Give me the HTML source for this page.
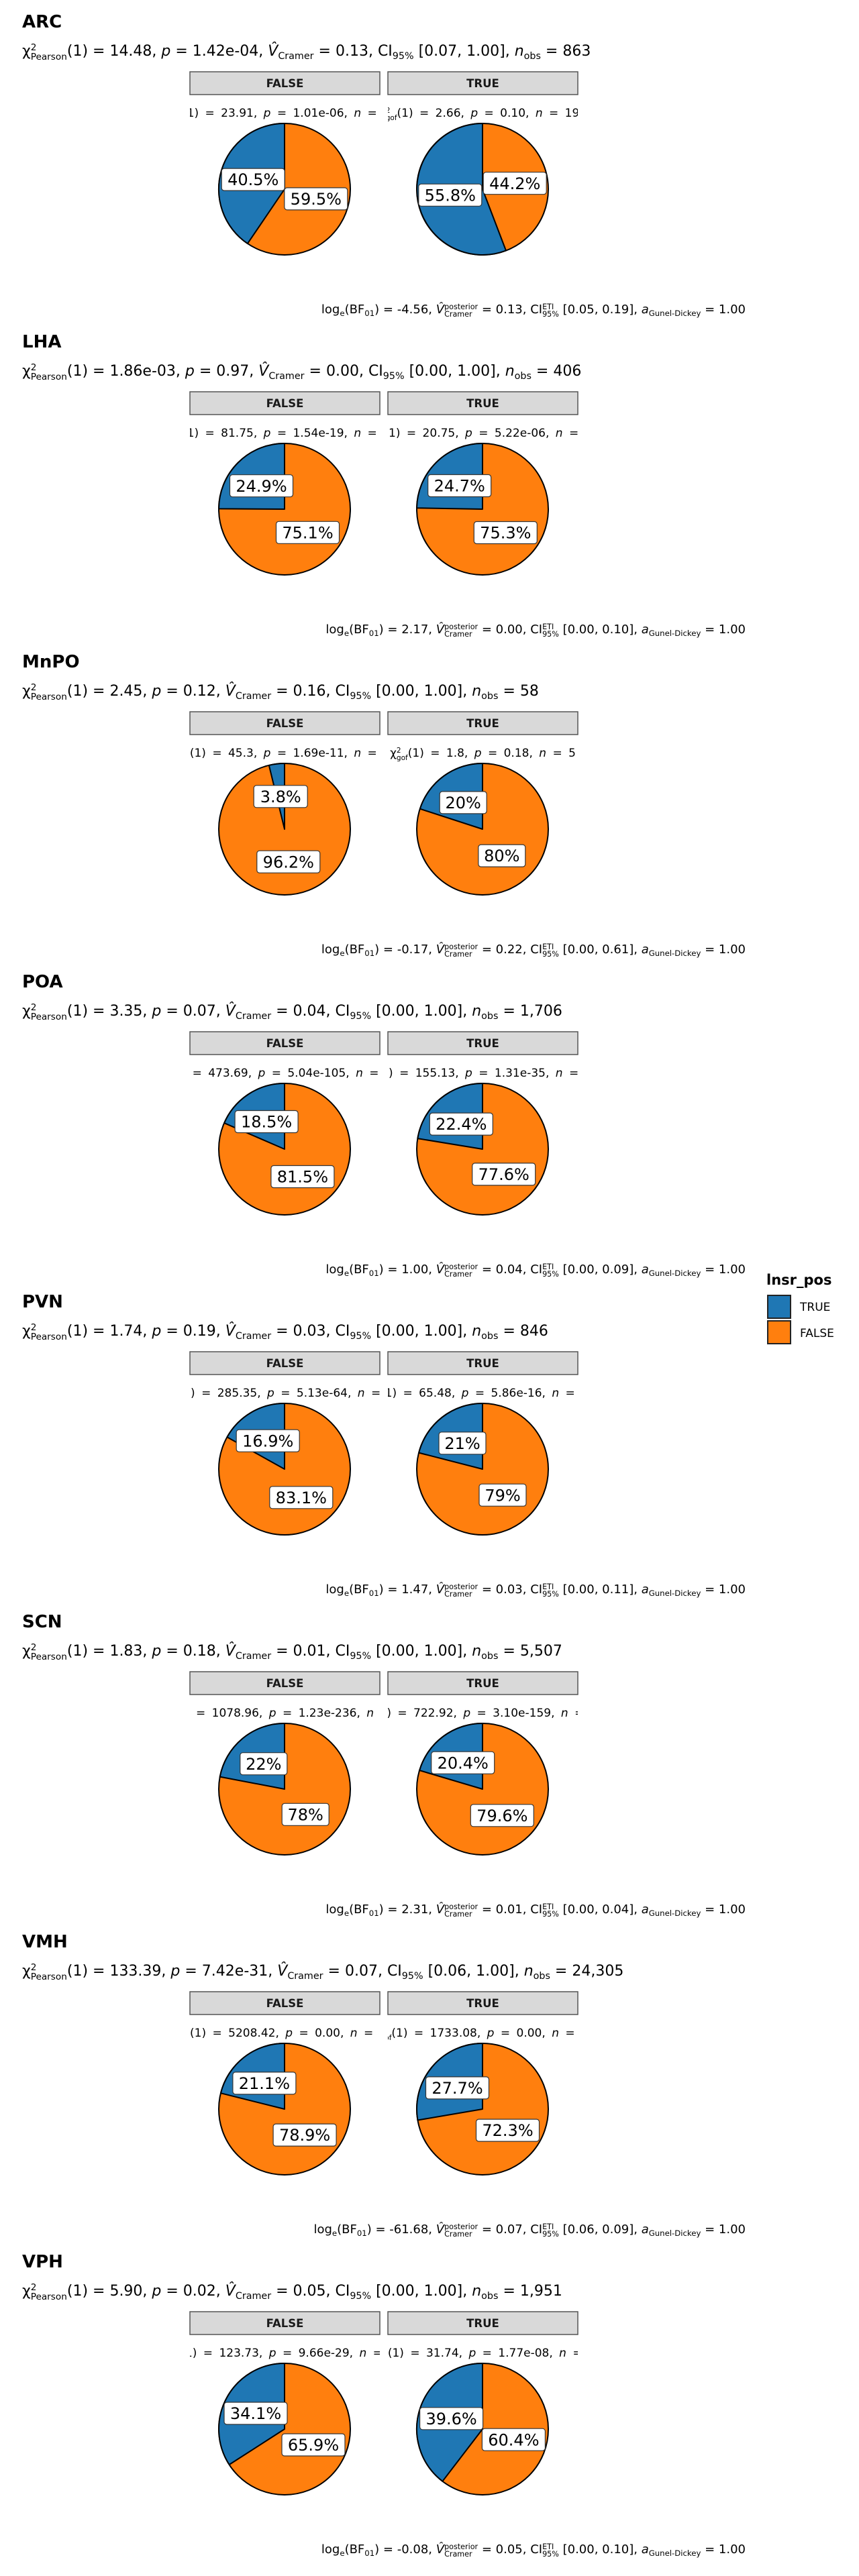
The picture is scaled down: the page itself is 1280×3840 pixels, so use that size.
<!DOCTYPE html>
<html><head><meta charset="utf-8"><style>
body{margin:0;background:#fff;}
#c{position:relative;width:1280px;height:3840px;overflow:hidden;font-family:"DejaVu Sans","Liberation Sans",sans-serif;color:#000;}
svg{position:absolute;left:0;top:0;}
.p{position:absolute;left:0;width:1280px;height:477px;}
.t{position:absolute;left:33px;top:15px;font-size:26px;font-weight:bold;line-height:36px;}
.s{position:absolute;left:33px;top:62px;font-size:22px;line-height:30px;white-space:nowrap;}
.sub{position:absolute;top:155px;height:28px;overflow:hidden;font-size:17px;line-height:28px;white-space:nowrap;}
.sub div{position:absolute;left:50%;transform:translateX(-50%);word-spacing:4px;}
.cap{position:absolute;right:169px;top:447px;font-size:18px;line-height:30px;white-space:nowrap;}
.ss{display:inline-block;vertical-align:-0.45em;font-size:.62em;line-height:1;text-align:left;}
.ss span{display:block;}
sub{font-size:.65em;vertical-align:-0.35em;line-height:0;}
sup{font-size:.65em;line-height:0;}
i{font-style:italic;}
</style></head><body><div id="c">
<svg width="1280" height="3840" viewBox="0 0 1280 3840" font-family="DejaVu Sans, Liberation Sans, sans-serif">
<defs>
<g id="strips">
<rect x="283" y="107" width="283" height="34" fill="#d9d9d9" stroke="#555" stroke-width="1.5"/>
<rect x="578" y="107" width="283" height="34" fill="#d9d9d9" stroke="#555" stroke-width="1.5"/>
<text x="424.5" y="130" font-size="16.5" font-weight="bold" text-anchor="middle" fill="#1a1a1a">FALSE</text>
<text x="719.5" y="130" font-size="16.5" font-weight="bold" text-anchor="middle" fill="#1a1a1a">TRUE</text>
</g>
</defs>
<g stroke="#000" stroke-width="2" stroke-linejoin="round">
<circle cx="424" cy="282" r="98" fill="#ff7f0e"/><path d="M424 282 L424 184 A98 98 0 0 0 368.9 363.1 Z" fill="#1f77b4"/>
<circle cx="719" cy="282" r="98" fill="#ff7f0e"/><path d="M719 282 L719 184 A98 98 0 1 0 754.0 373.6 Z" fill="#1f77b4"/>
<circle cx="424" cy="759" r="98" fill="#ff7f0e"/><path d="M424 759 L424 661 A98 98 0 0 0 326 758.4 Z" fill="#1f77b4"/>
<circle cx="719" cy="759" r="98" fill="#ff7f0e"/><path d="M719 759 L719 661 A98 98 0 0 0 621.0 757.2 Z" fill="#1f77b4"/>
<circle cx="424" cy="1236" r="98" fill="#ff7f0e"/><path d="M424 1236 L424 1138 A98 98 0 0 0 400.8 1140.8 Z" fill="#1f77b4"/>
<circle cx="719" cy="1236" r="98" fill="#ff7f0e"/><path d="M719 1236 L719 1138 A98 98 0 0 0 625.8 1205.7 Z" fill="#1f77b4"/>
<circle cx="424" cy="1713" r="98" fill="#ff7f0e"/><path d="M424 1713 L424 1615 A98 98 0 0 0 334.1 1674.1 Z" fill="#1f77b4"/>
<circle cx="719" cy="1713" r="98" fill="#ff7f0e"/><path d="M719 1713 L719 1615 A98 98 0 0 0 622.3 1697.1 Z" fill="#1f77b4"/>
<circle cx="424" cy="2190" r="98" fill="#ff7f0e"/><path d="M424 2190 L424 2092 A98 98 0 0 0 338.4 2142.2 Z" fill="#1f77b4"/>
<circle cx="719" cy="2190" r="98" fill="#ff7f0e"/><path d="M719 2190 L719 2092 A98 98 0 0 0 624.1 2165.6 Z" fill="#1f77b4"/>
<circle cx="424" cy="2667" r="98" fill="#ff7f0e"/><path d="M424 2667 L424 2569 A98 98 0 0 0 327.7 2648.6 Z" fill="#1f77b4"/>
<circle cx="719" cy="2667" r="98" fill="#ff7f0e"/><path d="M719 2667 L719 2569 A98 98 0 0 0 625.1 2639.1 Z" fill="#1f77b4"/>
<circle cx="424" cy="3144" r="98" fill="#ff7f0e"/><path d="M424 3144 L424 3046 A98 98 0 0 0 328.9 3120.2 Z" fill="#1f77b4"/>
<circle cx="719" cy="3144" r="98" fill="#ff7f0e"/><path d="M719 3144 L719 3046 A98 98 0 0 0 622.4 3160.5 Z" fill="#1f77b4"/>
<circle cx="424" cy="3621" r="98" fill="#ff7f0e"/><path d="M424 3621 L424 3523 A98 98 0 0 0 341.6 3674.0 Z" fill="#1f77b4"/>
<circle cx="719" cy="3621" r="98" fill="#ff7f0e"/><path d="M719 3621 L719 3523 A98 98 0 0 0 659.4 3698.8 Z" fill="#1f77b4"/>
</g>
<use href="#strips" y="0"/><use href="#strips" y="477"/><use href="#strips" y="954"/><use href="#strips" y="1431"/>
<use href="#strips" y="1908"/><use href="#strips" y="2385"/><use href="#strips" y="2862"/><use href="#strips" y="3339"/>
<g font-size="24" text-anchor="middle" fill="#000">
<g fill="#fff" stroke="#333" stroke-width="1.2">
<rect x="330.2" y="251.1" width="94" height="33" rx="4"/><rect x="423.8" y="279.9" width="94" height="33" rx="4"/>
<rect x="623.8" y="274.3" width="94" height="33" rx="4"/><rect x="720.2" y="256.7" width="94" height="33" rx="4"/>
<rect x="342.5" y="707.7" width="94" height="33" rx="4"/><rect x="411.5" y="777.3" width="94" height="33" rx="4"/>
<rect x="637.7" y="707.5" width="94" height="33" rx="4"/><rect x="706.3" y="777.5" width="94" height="33" rx="4"/>
<rect x="378.2" y="1170.8" width="80" height="33" rx="4"/><rect x="382.8" y="1268.2" width="94" height="33" rx="4"/>
<rect x="655.2" y="1179.9" width="70" height="33" rx="4"/><rect x="712.8" y="1259.1" width="70" height="33" rx="4"/>
<rect x="350.1" y="1655.5" width="94" height="33" rx="4"/><rect x="403.9" y="1737.5" width="94" height="33" rx="4"/>
<rect x="640.3" y="1659.1" width="94" height="33" rx="4"/><rect x="703.7" y="1733.9" width="94" height="33" rx="4"/>
<rect x="352.2" y="2131.2" width="94" height="33" rx="4"/><rect x="401.8" y="2215.8" width="94" height="33" rx="4"/>
<rect x="654.0" y="2134.8" width="70" height="33" rx="4"/><rect x="714.0" y="2212.2" width="70" height="33" rx="4"/>
<rect x="357.8" y="2612.7" width="70" height="33" rx="4"/><rect x="420.2" y="2688.3" width="70" height="33" rx="4"/>
<rect x="642.7" y="2611.2" width="94" height="33" rx="4"/><rect x="701.3" y="2689.8" width="94" height="33" rx="4"/>
<rect x="346.9" y="3088.9" width="94" height="33" rx="4"/><rect x="407.1" y="3166.1" width="94" height="33" rx="4"/>
<rect x="634.5" y="3095.9" width="94" height="33" rx="4"/><rect x="709.5" y="3159.1" width="94" height="33" rx="4"/>
<rect x="334.0" y="3581.0" width="94" height="33" rx="4"/><rect x="420.0" y="3628.0" width="94" height="33" rx="4"/>
<rect x="625.6" y="3588.8" width="94" height="33" rx="4"/><rect x="718.4" y="3620.2" width="94" height="33" rx="4"/>
</g>
<text x="377.2" y="276.2">40.5%</text><text x="470.8" y="305.0">59.5%</text>
<text x="670.8" y="299.4">55.8%</text><text x="767.2" y="281.8">44.2%</text>
<text x="389.5" y="732.8">24.9%</text><text x="458.5" y="802.4">75.1%</text>
<text x="684.7" y="732.6">24.7%</text><text x="753.3" y="802.6">75.3%</text>
<text x="418.2" y="1195.9">3.8%</text><text x="429.8" y="1293.3">96.2%</text>
<text x="690.2" y="1205.0">20%</text><text x="747.8" y="1284.2">80%</text>
<text x="397.1" y="1680.6">18.5%</text><text x="450.9" y="1762.6">81.5%</text>
<text x="687.3" y="1684.2">22.4%</text><text x="750.7" y="1759.0">77.6%</text>
<text x="399.2" y="2156.3">16.9%</text><text x="448.8" y="2240.9">83.1%</text>
<text x="689.0" y="2159.9">21%</text><text x="749.0" y="2237.3">79%</text>
<text x="392.8" y="2637.8">22%</text><text x="455.2" y="2713.4">78%</text>
<text x="689.7" y="2636.3">20.4%</text><text x="748.3" y="2714.9">79.6%</text>
<text x="393.9" y="3114.0">21.1%</text><text x="454.1" y="3191.2">78.9%</text>
<text x="681.5" y="3121.0">27.7%</text><text x="756.5" y="3184.2">72.3%</text>
<text x="381.0" y="3606.1">34.1%</text><text x="467.0" y="3653.1">65.9%</text>
<text x="672.6" y="3613.9">39.6%</text><text x="765.4" y="3645.3">60.4%</text>
</g>
<text x="1142" y="1915" font-size="21" font-weight="bold">lnsr_pos</text>
<rect x="1144" y="1931" width="34" height="34" fill="#1f77b4" stroke="#222" stroke-width="2"/>
<rect x="1144" y="1969" width="34" height="34" fill="#ff7f0e" stroke="#222" stroke-width="2"/>
<text x="1192" y="1954" font-size="17">TRUE</text>
<text x="1192" y="1993" font-size="17">FALSE</text>
</svg>

<div class="p" style="top:0">
<div class="t">ARC</div>
<div class="s">χ<span class="ss"><span>2</span><span>Pearson</span></span>(1) = 14.48, <i>p</i> = 1.42e-04, <i>V̂</i><sub>Cramer</sub> = 0.13, CI<sub>95%</sub> [0.07, 1.00], <i>n</i><sub>obs</sub> = 863</div>
<div class="sub" style="left:283px;width:283px"><div>χ<span class="ss"><span>2</span><span>gof</span></span>(1) = 23.91,  <i>p</i> = 1.01e-06,  <i>n</i> = 500</div></div>
<div class="sub" style="left:578px;width:283px"><div>χ<span class="ss"><span>2</span><span>gof</span></span>(1) = 2.66,  <i>p</i> = 0.10,  <i>n</i> = 199</div></div>
<div class="cap">log<sub>e</sub>(BF<sub>01</sub>) = -4.56, <i>V̂</i><span class="ss"><span>posterior</span><span>Cramer</span></span> = 0.13, CI<span class="ss"><span>ETI</span><span>95%</span></span> [0.05, 0.19], <i>a</i><sub>Gunel-Dickey</sub> = 1.00</div>
</div>

<div class="p" style="top:477px">
<div class="t">LHA</div>
<div class="s">χ<span class="ss"><span>2</span><span>Pearson</span></span>(1) = 1.86e-03, <i>p</i> = 0.97, <i>V̂</i><sub>Cramer</sub> = 0.00, CI<sub>95%</sub> [0.00, 1.00], <i>n</i><sub>obs</sub> = 406</div>
<div class="sub" style="left:283px;width:283px"><div>χ<span class="ss"><span>2</span><span>gof</span></span>(1) = 81.75,  <i>p</i> = 1.54e-19,  <i>n</i> = 325</div></div>
<div class="sub" style="left:578px;width:283px"><div>χ<span class="ss"><span>2</span><span>gof</span></span>(1) = 20.75,  <i>p</i> = 5.22e-06,  <i>n</i> = 81</div></div>
<div class="cap">log<sub>e</sub>(BF<sub>01</sub>) = 2.17, <i>V̂</i><span class="ss"><span>posterior</span><span>Cramer</span></span> = 0.00, CI<span class="ss"><span>ETI</span><span>95%</span></span> [0.00, 0.10], <i>a</i><sub>Gunel-Dickey</sub> = 1.00</div>
</div>

<div class="p" style="top:954px">
<div class="t">MnPO</div>
<div class="s">χ<span class="ss"><span>2</span><span>Pearson</span></span>(1) = 2.45, <i>p</i> = 0.12, <i>V̂</i><sub>Cramer</sub> = 0.16, CI<sub>95%</sub> [0.00, 1.00], <i>n</i><sub>obs</sub> = 58</div>
<div class="sub" style="left:283px;width:283px"><div>χ<span class="ss"><span>2</span><span>gof</span></span>(1) = 45.3,  <i>p</i> = 1.69e-11,  <i>n</i> = 53</div></div>
<div class="sub" style="left:578px;width:283px"><div>χ<span class="ss"><span>2</span><span>gof</span></span>(1) = 1.8,  <i>p</i> = 0.18,  <i>n</i> = 5</div></div>
<div class="cap">log<sub>e</sub>(BF<sub>01</sub>) = -0.17, <i>V̂</i><span class="ss"><span>posterior</span><span>Cramer</span></span> = 0.22, CI<span class="ss"><span>ETI</span><span>95%</span></span> [0.00, 0.61], <i>a</i><sub>Gunel-Dickey</sub> = 1.00</div>
</div>

<div class="p" style="top:1431px">
<div class="t">POA</div>
<div class="s">χ<span class="ss"><span>2</span><span>Pearson</span></span>(1) = 3.35, <i>p</i> = 0.07, <i>V̂</i><sub>Cramer</sub> = 0.04, CI<sub>95%</sub> [0.00, 1.00], <i>n</i><sub>obs</sub> = 1,706</div>
<div class="sub" style="left:283px;width:283px"><div>χ<span class="ss"><span>2</span><span>gof</span></span>(1) = 473.69,  <i>p</i> = 5.04e-105,  <i>n</i> = 1,091</div></div>
<div class="sub" style="left:578px;width:283px"><div>χ<span class="ss"><span>2</span><span>gof</span></span>(1) = 155.13,  <i>p</i> = 1.31e-35,  <i>n</i> = 615</div></div>
<div class="cap">log<sub>e</sub>(BF<sub>01</sub>) = 1.00, <i>V̂</i><span class="ss"><span>posterior</span><span>Cramer</span></span> = 0.04, CI<span class="ss"><span>ETI</span><span>95%</span></span> [0.00, 0.09], <i>a</i><sub>Gunel-Dickey</sub> = 1.00</div>
</div>

<div class="p" style="top:1908px">
<div class="t">PVN</div>
<div class="s">χ<span class="ss"><span>2</span><span>Pearson</span></span>(1) = 1.74, <i>p</i> = 0.19, <i>V̂</i><sub>Cramer</sub> = 0.03, CI<sub>95%</sub> [0.00, 1.00], <i>n</i><sub>obs</sub> = 846</div>
<div class="sub" style="left:283px;width:283px"><div>χ<span class="ss"><span>2</span><span>gof</span></span>(1) = 285.35,  <i>p</i> = 5.13e-64,  <i>n</i> = 621</div></div>
<div class="sub" style="left:578px;width:283px"><div>χ<span class="ss"><span>2</span><span>gof</span></span>(1) = 65.48,  <i>p</i> = 5.86e-16,  <i>n</i> = 225</div></div>
<div class="cap">log<sub>e</sub>(BF<sub>01</sub>) = 1.47, <i>V̂</i><span class="ss"><span>posterior</span><span>Cramer</span></span> = 0.03, CI<span class="ss"><span>ETI</span><span>95%</span></span> [0.00, 0.11], <i>a</i><sub>Gunel-Dickey</sub> = 1.00</div>
</div>

<div class="p" style="top:2385px">
<div class="t">SCN</div>
<div class="s">χ<span class="ss"><span>2</span><span>Pearson</span></span>(1) = 1.83, <i>p</i> = 0.18, <i>V̂</i><sub>Cramer</sub> = 0.01, CI<sub>95%</sub> [0.00, 1.00], <i>n</i><sub>obs</sub> = 5,507</div>
<div class="sub" style="left:283px;width:283px"><div>χ<span class="ss"><span>2</span><span>gof</span></span>(1) = 1078.96,  <i>p</i> = 1.23e-236,  <i>n</i> = 3,4</div></div>
<div class="sub" style="left:578px;width:283px"><div>χ<span class="ss"><span>2</span><span>gof</span></span>(1) = 722.92,  <i>p</i> = 3.10e-159,  <i>n</i> = 2,0</div></div>
<div class="cap">log<sub>e</sub>(BF<sub>01</sub>) = 2.31, <i>V̂</i><span class="ss"><span>posterior</span><span>Cramer</span></span> = 0.01, CI<span class="ss"><span>ETI</span><span>95%</span></span> [0.00, 0.04], <i>a</i><sub>Gunel-Dickey</sub> = 1.00</div>
</div>

<div class="p" style="top:2862px">
<div class="t">VMH</div>
<div class="s">χ<span class="ss"><span>2</span><span>Pearson</span></span>(1) = 133.39, <i>p</i> = 7.42e-31, <i>V̂</i><sub>Cramer</sub> = 0.07, CI<sub>95%</sub> [0.06, 1.00], <i>n</i><sub>obs</sub> = 24,305</div>
<div class="sub" style="left:283px;width:283px"><div>χ<span class="ss"><span>2</span><span>gof</span></span>(1) = 5208.42,  <i>p</i> = 0.00,  <i>n</i> = 15,</div></div>
<div class="sub" style="left:578px;width:283px"><div>χ<span class="ss"><span>2</span><span>gof</span></span>(1) = 1733.08,  <i>p</i> = 0.00,  <i>n</i> = 8,</div></div>
<div class="cap">log<sub>e</sub>(BF<sub>01</sub>) = -61.68, <i>V̂</i><span class="ss"><span>posterior</span><span>Cramer</span></span> = 0.07, CI<span class="ss"><span>ETI</span><span>95%</span></span> [0.06, 0.09], <i>a</i><sub>Gunel-Dickey</sub> = 1.00</div>
</div>

<div class="p" style="top:3339px">
<div class="t">VPH</div>
<div class="s">χ<span class="ss"><span>2</span><span>Pearson</span></span>(1) = 5.90, <i>p</i> = 0.02, <i>V̂</i><sub>Cramer</sub> = 0.05, CI<sub>95%</sub> [0.00, 1.00], <i>n</i><sub>obs</sub> = 1,951</div>
<div class="sub" style="left:283px;width:283px"><div>χ<span class="ss"><span>2</span><span>gof</span></span>(1) = 123.73,  <i>p</i> = 9.66e-29,  <i>n</i> = 1,0</div></div>
<div class="sub" style="left:578px;width:283px"><div>χ<span class="ss"><span>2</span><span>gof</span></span>(1) = 31.74,  <i>p</i> = 1.77e-08,  <i>n</i> = 9</div></div>
<div class="cap">log<sub>e</sub>(BF<sub>01</sub>) = -0.08, <i>V̂</i><span class="ss"><span>posterior</span><span>Cramer</span></span> = 0.05, CI<span class="ss"><span>ETI</span><span>95%</span></span> [0.00, 0.10], <i>a</i><sub>Gunel-Dickey</sub> = 1.00</div>
</div>

</div></body></html>
